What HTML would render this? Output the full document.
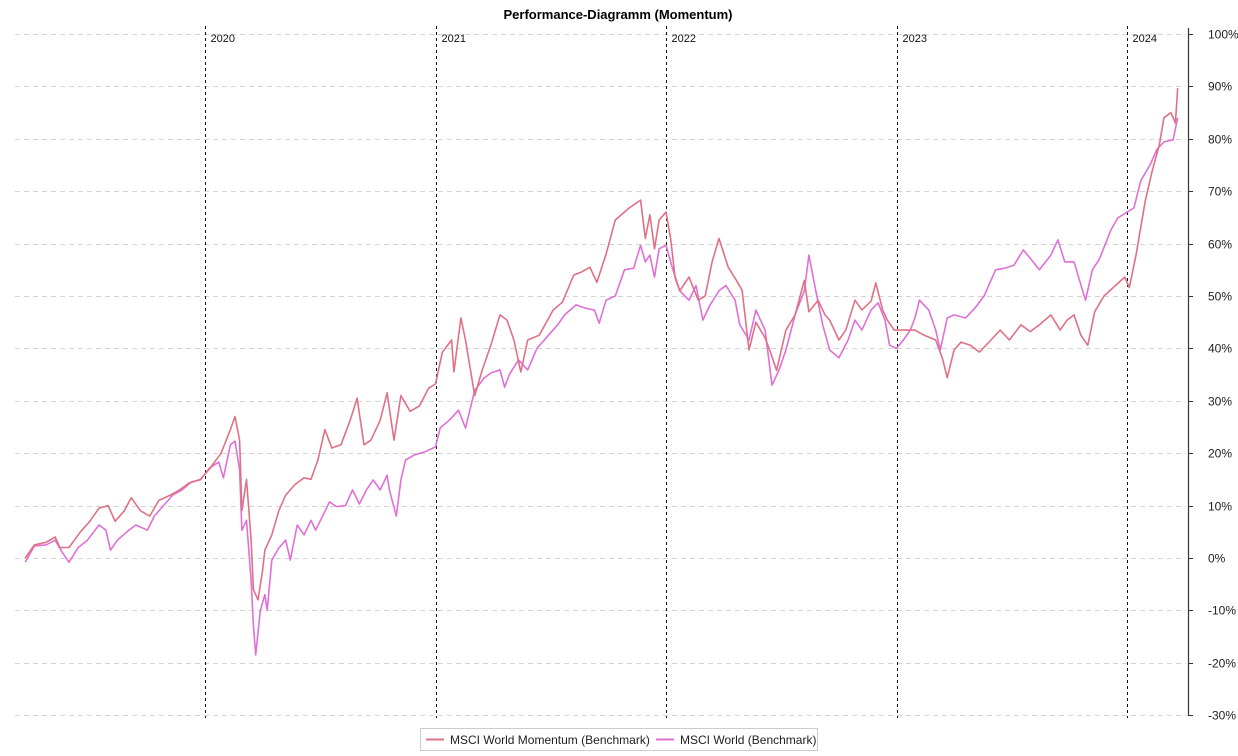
<!DOCTYPE html>
<html><head><meta charset="utf-8"><style>
body{margin:0;background:#fff;font-family:"Liberation Sans",sans-serif;}
svg{display:block}
</style></head><body>
<svg id="chart" width="1238" height="756">
<text x="618" y="19" text-anchor="middle" font-size="13" font-weight="bold" fill="#000">Performance-Diagramm (Momentum)</text>
<g id="grid"></g><g id="years"></g><g id="axis"></g><g id="series"></g>
<g>
<rect x="420.5" y="728.5" width="397" height="22" fill="#fff" stroke="#ccc"/>
<g>
<line x1="426" y1="739.5" x2="444" y2="739.5" stroke="#e07185" stroke-width="2"/>
<text x="450" y="744" font-size="12" fill="#222">MSCI World Momentum (Benchmark)</text></g>
<g>
<line x1="656" y1="739.5" x2="674" y2="739.5" stroke="#e070d6" stroke-width="2"/>
<text x="680" y="744" font-size="12" fill="#222">MSCI World (Benchmark)</text></g>
</g>
</svg>
<script>
const yTicks=[100,90,80,70,60,50,40,30,20,10,0,-10,-20,-30];
const yearTicks=[2020,2021,2022,2023,2024];
const momDates=[2019.22,2019.26,2019.31,2019.35,2019.37,2019.41,2019.46,2019.50,2019.54,2019.58,2019.61,2019.65,2019.68,2019.72,2019.76,2019.80,2019.85,2019.89,2019.93,2019.98,2020.02,2020.07,2020.11,2020.13,2020.15,2020.16,2020.18,2020.20,2020.21,2020.23,2020.25,2020.26,2020.29,2020.32,2020.35,2020.39,2020.43,2020.46,2020.49,2020.52,2020.55,2020.59,2020.63,2020.66,2020.69,2020.72,2020.76,2020.79,2020.82,2020.85,2020.89,2020.93,2020.97,2021.00,2021.03,2021.07,2021.08,2021.11,2021.13,2021.17,2021.20,2021.24,2021.28,2021.31,2021.34,2021.37,2021.40,2021.45,2021.51,2021.55,2021.60,2021.63,2021.67,2021.70,2021.74,2021.78,2021.84,2021.89,2021.91,2021.93,2021.95,2021.97,2022.00,2022.02,2022.04,2022.06,2022.10,2022.14,2022.17,2022.20,2022.23,2022.27,2022.30,2022.33,2022.36,2022.39,2022.43,2022.45,2022.48,2022.52,2022.56,2022.60,2022.62,2022.66,2022.69,2022.71,2022.75,2022.78,2022.82,2022.85,2022.89,2022.91,2022.94,2022.96,2022.99,2023.04,2023.08,2023.12,2023.17,2023.20,2023.22,2023.25,2023.28,2023.32,2023.36,2023.41,2023.45,2023.49,2023.54,2023.58,2023.62,2023.67,2023.71,2023.74,2023.77,2023.80,2023.83,2023.86,2023.90,2023.95,2023.99,2024.01,2024.04,2024.08,2024.11,2024.14,2024.16,2024.19,2024.21,2024.22];
const momValues=[0,2.5,3,4,2,2,5,7,9.5,10,7,9,11.5,9,8,11,12,13,14.3,15,17,20,24.5,27,22.5,9,15,3.5,-6,-8,-2.3,1.5,4.4,9,12,14,15.3,15,18.7,24.5,21,21.6,26.3,30.5,21.6,22.5,26.3,31.5,22.5,31,28,29,32.4,33.2,39.3,41.6,35.5,45.8,41.6,31,35.5,40.6,46.4,45.4,41.6,35.5,41.6,42.5,47.3,48.8,54,54.5,55.5,52.6,58,64.5,66.8,68.3,61,65.5,59,64.5,66,61,53.4,51,53.6,49.2,50,56.5,61,55.5,53.4,51.1,39.7,45,42,39.7,35.8,43.5,46.4,53,47,49.2,46.4,45.4,41.6,43.5,49.2,47.3,49,52.5,47.3,45.4,43.5,43.5,43.5,42.5,41.6,38,34.4,39.7,41.2,40.6,39.3,41.6,43.5,41.6,44.5,43.2,44.5,46.4,43.5,45.4,46.4,42.5,40.6,47,50,52,53.6,51.6,58,68.3,74,78.8,84,85,83,89.7];
const wldDates=[2019.22,2019.26,2019.31,2019.35,2019.38,2019.41,2019.45,2019.49,2019.54,2019.57,2019.59,2019.62,2019.67,2019.70,2019.75,2019.78,2019.82,2019.86,2019.90,2019.94,2019.98,2020.02,2020.06,2020.08,2020.11,2020.13,2020.15,2020.16,2020.18,2020.20,2020.21,2020.22,2020.24,2020.26,2020.27,2020.29,2020.32,2020.35,2020.37,2020.40,2020.43,2020.46,2020.48,2020.51,2020.54,2020.57,2020.61,2020.64,2020.67,2020.70,2020.73,2020.76,2020.79,2020.80,2020.83,2020.85,2020.87,2020.91,2020.95,2021.00,2021.02,2021.06,2021.10,2021.13,2021.17,2021.21,2021.24,2021.28,2021.30,2021.32,2021.36,2021.40,2021.44,2021.49,2021.53,2021.56,2021.61,2021.65,2021.69,2021.71,2021.74,2021.78,2021.82,2021.86,2021.89,2021.91,2021.93,2021.95,2021.97,2022.00,2022.03,2022.06,2022.10,2022.13,2022.16,2022.19,2022.23,2022.26,2022.30,2022.32,2022.36,2022.39,2022.43,2022.46,2022.49,2022.52,2022.56,2022.60,2022.62,2022.65,2022.68,2022.71,2022.75,2022.79,2022.82,2022.85,2022.89,2022.92,2022.95,2022.97,2023.00,2023.03,2023.06,2023.08,2023.10,2023.14,2023.17,2023.19,2023.22,2023.25,2023.30,2023.34,2023.38,2023.43,2023.47,2023.51,2023.55,2023.58,2023.62,2023.67,2023.70,2023.73,2023.77,2023.82,2023.85,2023.88,2023.93,2023.96,2024.00,2024.03,2024.06,2024.10,2024.13,2024.16,2024.20,2024.22];
const wldValues=[-0.8,2.3,2.5,3.4,1.1,-0.8,2,3.4,6.3,5.3,1.5,3.4,5.3,6.3,5.3,8,10,12,13,14.5,14.9,17.2,18.3,15.3,21.6,22.3,16.8,5.3,7.2,-4.2,-12.8,-18.5,-10,-7,-10,-0.4,1.9,3.4,-0.4,6.3,4.4,7.2,5.3,8,10.7,9.8,10,13,10.3,13,14.9,13,15.8,13,8,14.9,18.7,19.7,20.2,21.2,24.8,26.3,28.2,24.8,32,34.3,35.3,35.9,32.6,35,37.8,35.9,40,42.5,44.5,46.4,48.3,47.7,47.3,44.8,49.2,50,55,55.3,59.7,56.5,57.8,53.6,59,59.7,55,51,49.2,52,45.4,48.2,51,52,49.2,44.5,41.6,47.3,43.5,33,35.8,39.7,46.4,51,57.8,51,44.5,39.7,38.2,41.6,45.4,43.5,47.3,48.7,45.4,40.6,40,41.6,43.5,45.8,49.2,47.3,43.5,39.7,45.8,46.4,45.8,47.7,50,55,55.3,55.9,58.8,57.2,55,57.8,60.7,56.5,56.5,49.2,55,57,62.6,64.9,66,66.8,72,75,78,79.4,79.8,84];

const NS='http://www.w3.org/2000/svg';
const X=t=>205+(t-2020)*230.5;
const Y=v=>558-v*5.24;
function mk(tag,attrs,parent){const e=document.createElementNS(NS,tag);for(const k in attrs)e.setAttribute(k,attrs[k]);parent.appendChild(e);return e;}
const grid=document.getElementById('grid'),axis=document.getElementById('axis'),years=document.getElementById('years'),series=document.getElementById('series');
mk('line',{x1:1188.5,y1:28,x2:1188.5,y2:716,stroke:'#333','stroke-width':1.2},axis);
yTicks.forEach(v=>{const y=Math.round(Y(v))+0.5;
 const g=mk('line',{x1:15,y1:y,x2:1186,y2:y,stroke:'#d4d4d4','stroke-dasharray':'5,4'},grid);
 
 
 mk('line',{x1:1188,y1:y,x2:1193,y2:y,stroke:'#333'},axis);
 const t=mk('text',{x:1208,y:y+4,'font-size':12,fill:'#222'},axis);t.textContent=v+'%';
 
 });
yearTicks.forEach(yr=>{const x=Math.round(X(yr))+0.5;
 const l=mk('line',{x1:x,y1:26,x2:x,y2:718,stroke:'#111','stroke-dasharray':'3,3'},years);
 
 
 const t=mk('text',{x:x+5,y:42,'font-size':11,fill:'#111'},years);t.textContent=yr;
 
 });
function draw(d,v,c,name){const p=mk('path',{d:d.map((t,i)=>(i?'L':'M')+X(t).toFixed(1)+','+Y(v[i]).toFixed(1)).join(''),fill:'none',stroke:c,'stroke-width':1.6,'stroke-linejoin':'round'},series);
 
 }
draw(wldDates,wldValues,'#e070d6','msci-world-line');
draw(momDates,momValues,'#e07185','msci-world-momentum-line');
</script>
</body></html>
